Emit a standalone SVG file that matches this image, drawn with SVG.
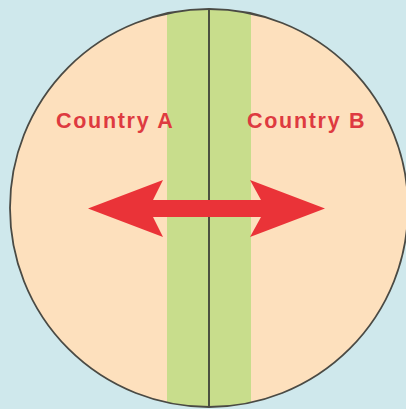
<svg xmlns="http://www.w3.org/2000/svg" width="406" height="409" viewBox="0 0 406 409">
<style>
.lbl{font-family:"Liberation Sans",Arial,sans-serif;font-weight:bold;font-size:21.5px;fill:#de3a40;letter-spacing:1.7px}
</style>
<defs>
<clipPath id="circ"><circle cx="209" cy="208" r="199"/></clipPath>
</defs>
<rect width="406" height="409" fill="#cfe8ec"/>
<g id="map">
<circle cx="209" cy="208" r="199" fill="#fde0bd"/>
<rect x="167" y="0" width="84" height="409" fill="#c8dd8c" clip-path="url(#circ)"/>
<line x1="209" y1="9" x2="209" y2="407" stroke="#2e2e2e" stroke-width="1.6"/>
<circle cx="209" cy="208" r="199" fill="none" stroke="#4a4a44" stroke-width="1.8"/>
</g>
<g id="countryA"><text class="lbl" x="56" y="128">Country A</text></g>
<g id="countryB"><text class="lbl" x="247" y="128">Country B</text></g>
<g id="connectors">
<path d="M88,208.5 L163,180 L153,200 L261,200 L250,180 L325,208.5 L250,237 L261,217 L153,217 L163,237 Z" fill="#ea3338"/>
</g>
</svg>
